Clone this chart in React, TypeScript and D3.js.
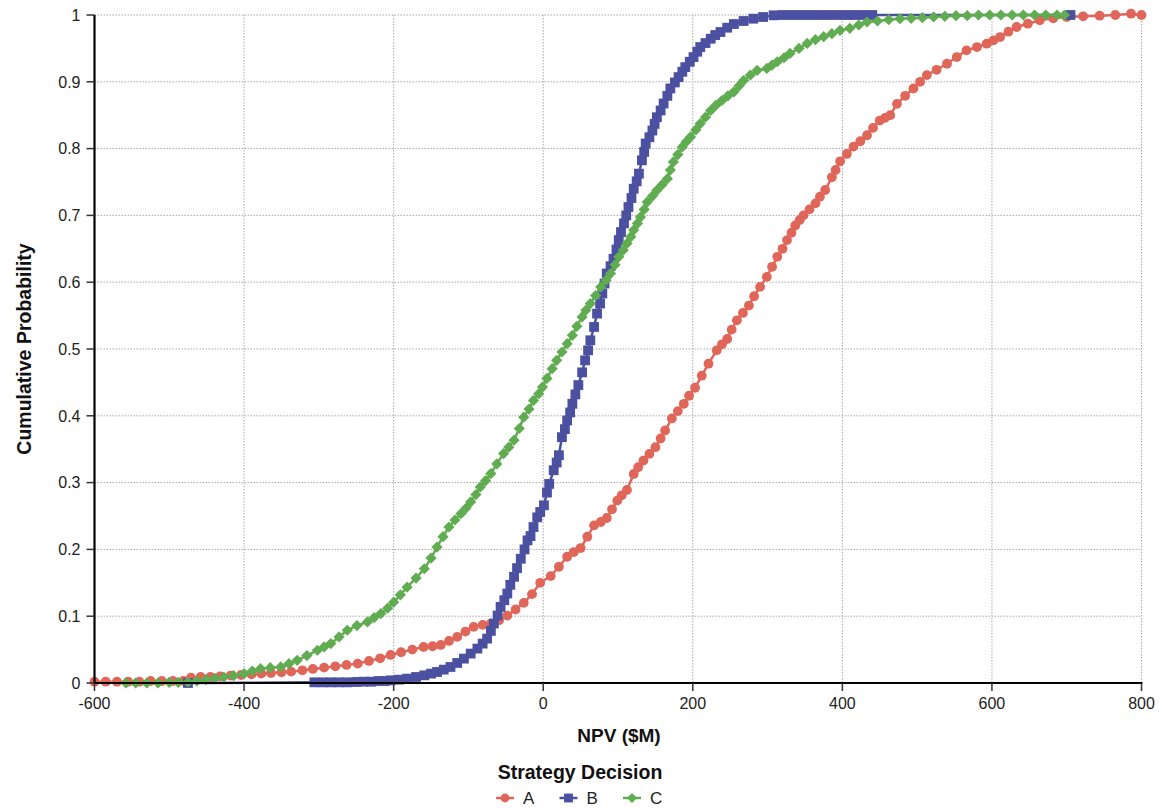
import React from "react";
import * as d3 from "d3";

const xTicks = [-600, -400, -200, 0, 200, 400, 600, 800];
const yTicks = [0, 0.1, 0.2, 0.3, 0.4, 0.5, 0.6, 0.7, 0.8, 0.9, 1];
const yTickLabels = ["0", "0.1", "0.2", "0.3", "0.4", "0.5", "0.6", "0.7", "0.8", "0.9", "1"];

const seriesNames = ["A", "B", "C"];
const seriesColors = ["#e0665a", "#4b50a0", "#60ac50"];

const dataA: [number, number][] = [
[-600,0.002],[-585,0.002],[-570,0.002],[-555,0.002],[-540,0.002],[-525,0.003],[-510,0.003],[-495,0.003],[-481,0.003],[-471,0.008],[-458,0.009],[-445,0.009],[-432,0.010],[-418,0.011],[-404,0.012],[-390,0.013],[-377,0.014],[-364,0.015],[-350,0.016],[-337,0.017],[-322,0.019],[-308,0.021],[-293,0.023],[-278,0.025],[-263,0.027],[-248,0.029],[-233,0.033],[-218,0.037],[-204,0.042],[-190,0.046],[-175,0.050],[-160,0.054],[-148,0.055],[-137,0.057],[-126,0.063],[-115,0.069],[-104,0.077],[-93,0.084],[-81,0.087],[-70,0.089],[-59,0.094],[-48,0.101],[-37,0.110],[-26,0.120],[-15,0.133],[-4,0.150],[10,0.160],[21,0.174],[32,0.189],[41,0.196],[50,0.202],[59,0.219],[68,0.236],[77,0.241],[85,0.247],[92,0.260],[99,0.273],[105,0.281],[112,0.289],[121,0.313],[127,0.323],[134,0.333],[142,0.343],[150,0.353],[157,0.366],[163,0.378],[172,0.396],[180,0.407],[188,0.418],[195,0.430],[203,0.442],[212,0.460],[221,0.478],[232,0.498],[239,0.507],[246,0.515],[252,0.529],[259,0.543],[267,0.554],[275,0.565],[282,0.579],[290,0.593],[299,0.608],[306,0.623],[313,0.638],[320,0.650],[326,0.663],[332,0.674],[337,0.685],[343,0.693],[348,0.700],[356,0.709],[364,0.718],[370,0.728],[377,0.738],[386,0.757],[391,0.768],[397,0.781],[406,0.792],[415,0.803],[424,0.811],[433,0.820],[441,0.831],[450,0.842],[457,0.846],[464,0.850],[473,0.867],[484,0.879],[495,0.890],[504,0.900],[513,0.910],[526,0.918],[540,0.927],[553,0.937],[566,0.947],[580,0.952],[593,0.957],[602,0.962],[611,0.967],[622,0.975],[633,0.982],[648,0.987],[664,0.992],[682,0.995],[700,0.997],[722,0.998],[744,0.999],[765,1.0],[786,1.002],[800,1.0]
];

const dataB: [number, number][] = [
[-475,0],[-306,0.001],[-295,0.001],[-284,0.001],[-273,0.001],[-262,0.001],[-250,0.0015],[-240,0.002],[-230,0.002],[-220,0.003],[-212,0.003],[-204,0.004],[-193,0.005],[-182,0.0065],[-170,0.009],[-159,0.0115],[-150,0.014],[-142,0.0165],[-133,0.020],[-124,0.024],[-115,0.030],[-106,0.0365],[-97,0.044],[-88,0.0515],[-81,0.059],[-75,0.0665],[-70,0.078],[-66,0.089],[-61,0.101],[-57,0.114],[-52,0.124],[-48,0.134],[-44,0.147],[-39,0.159],[-35,0.172],[-30,0.186],[-25,0.200],[-21,0.2135],[-17,0.220],[-13,0.2335],[-8,0.248],[-4,0.256],[1,0.266],[5,0.285],[8,0.298],[14,0.3185],[18,0.330],[21,0.341],[25,0.368],[29,0.380],[32,0.393],[36,0.405],[39,0.418],[43,0.432],[47,0.446],[52,0.465],[56,0.483],[60,0.498],[63,0.513],[68,0.533],[72,0.553],[76,0.568],[79,0.583],[82,0.598],[85,0.613],[90,0.624],[94,0.635],[98,0.649],[101,0.663],[104,0.675],[108,0.688],[111,0.700],[114,0.7125],[118,0.726],[121,0.740],[125,0.751],[128,0.7625],[132,0.7825],[135,0.795],[137,0.8075],[142,0.817],[146,0.827],[149,0.837],[152,0.847],[157,0.857],[161,0.8675],[166,0.879],[170,0.890],[176,0.899],[181,0.907],[186,0.915],[190,0.922],[196,0.930],[201,0.937],[206,0.945],[210,0.952],[217,0.958],[224,0.9645],[230,0.970],[237,0.9745],[246,0.981],[255,0.9865],[268,0.991],[281,0.9945],[294,0.997],[308,0.9995],[320,1],[332,1],[344,1],[356,1],[368,1],[380,1],[392,1],[404,1],[416,1],[428,1],[440,1],[705,1]
];

const dataC: [number, number][] = [
[-558,0],[-545,0],[-530,0],[-515,0],[-500,0.001],[-488,0.001],[-475,0.0015],[-463,0.003],[-451,0.005],[-439,0.007],[-427,0.009],[-414,0.011],[-400,0.014],[-389,0.018],[-378,0.0215],[-365,0.023],[-351,0.024],[-340,0.029],[-329,0.034],[-316,0.041],[-302,0.049],[-293,0.054],[-284,0.059],[-273,0.069],[-262,0.079],[-249,0.086],[-235,0.0915],[-226,0.098],[-217,0.104],[-208,0.112],[-200,0.121],[-191,0.132],[-182,0.1435],[-170,0.157],[-159,0.171],[-150,0.187],[-142,0.2035],[-134,0.219],[-126,0.2335],[-118,0.244],[-110,0.2535],[-103,0.262],[-97,0.271],[-90,0.282],[-84,0.2935],[-77,0.303],[-70,0.3135],[-62,0.328],[-53,0.3435],[-46,0.353],[-39,0.3635],[-32,0.381],[-26,0.398],[-19,0.410],[-13,0.423],[-6,0.433],[-1,0.443],[5,0.456],[12,0.4705],[18,0.483],[25,0.4955],[32,0.508],[39,0.5205],[45,0.534],[52,0.548],[57,0.558],[63,0.568],[70,0.580],[77,0.593],[84,0.603],[90,0.613],[96,0.626],[101,0.638],[107,0.648],[112,0.658],[117,0.668],[121,0.678],[126,0.688],[130,0.6975],[135,0.709],[139,0.720],[146,0.729],[152,0.7375],[159,0.746],[166,0.755],[170,0.768],[174,0.780],[180,0.791],[186,0.8025],[191,0.810],[197,0.8175],[204,0.828],[210,0.8375],[217,0.847],[224,0.857],[231,0.865],[239,0.872],[247,0.879],[255,0.885],[262,0.894],[268,0.902],[277,0.910],[286,0.917],[299,0.920],[306,0.925],[313,0.930],[322,0.936],[330,0.9425],[342,0.950],[353,0.9575],[364,0.963],[375,0.9675],[386,0.972],[397,0.977],[410,0.980],[422,0.985],[433,0.9895],[447,0.991],[462,0.993],[477,0.9945],[492,0.995],[507,0.996],[522,0.997],[537,0.998],[552,0.999],[567,0.999],[582,1],[597,1],[612,1],[627,1],[642,1],[657,1],[672,1],[687,1],[697,1]
];

const allData = [dataA, dataB, dataC];

const W = 1173, H = 808;
const left = 94.5, right = 1141.5, top = 15, bottom = 683;
const FONT = "'Liberation Sans', Arial, sans-serif";

function Marker({ kind, x, y, color, size = 1 }: { kind: number; x: number; y: number; color: string; size?: number }) {
  if (kind === 0) return <circle cx={x} cy={y} r={4.9 * size} fill={color} />;
  if (kind === 1) { const h = 4.9 * size; return <rect x={x - h} y={y - h} width={2 * h} height={2 * h} fill={color} />; }
  const s = 5.6 * size;
  return <path d={`M${x},${y - s}L${x + s},${y}L${x},${y + s}L${x - s},${y}Z`} fill={color} />;
}

export default function App() {
  const x = d3.scaleLinear().domain([-600, 800]).range([left, right]);
  const y = d3.scaleLinear().domain([0, 1]).range([bottom, top]);
  const line = d3.line<[number, number]>().x(d => x(d[0])).y(d => y(d[1]));

  return (
    <svg width={W} height={H} style={{ position: "absolute", left: 0, top: 0, background: "#fff" }} fontFamily={FONT}>
      {/* grid */}
      {xTicks.slice(1).map(t => (
        <line key={"gx" + t} x1={x(t)} x2={x(t)} y1={top} y2={bottom} stroke="#a8a8a8" strokeWidth={1} strokeDasharray="1.5,1.5" />
      ))}
      {yTicks.slice(1).map(t => (
        <line key={"gy" + t} x1={left} x2={right} y1={y(t)} y2={y(t)} stroke="#a8a8a8" strokeWidth={1} strokeDasharray="1.5,1.5" />
      ))}
      {/* series */}
      {allData.map((data, i) => (
        <g key={"s" + i}>
          <path d={line(data) || ""} fill="none" stroke={seriesColors[i]} strokeWidth={2.5} />
          {data.map((d, j) => (
            <Marker key={j} kind={i} x={x(d[0])} y={y(d[1])} color={seriesColors[i]} />
          ))}
        </g>
      ))}
      {/* axes */}
      <line x1={left} x2={left} y1={top} y2={bottom + 1} stroke="#000" strokeWidth={2.2} />
      <line x1={left - 1} x2={right + 1} y1={bottom} y2={bottom} stroke="#000" strokeWidth={2.2} />
      {yTicks.map((t, i) => (
        <g key={"yt" + t}>
          <line x1={left - 8} x2={left} y1={y(t)} y2={y(t)} stroke="#333" strokeWidth={1.5} />
          <text x={left - 14} y={y(t)} dy="0.36em" textAnchor="end" fontSize={16} fill="#222">{yTickLabels[i]}</text>
        </g>
      ))}
      {xTicks.map(t => (
        <g key={"xt" + t}>
          <line x1={x(t)} x2={x(t)} y1={bottom} y2={bottom + 8} stroke="#333" strokeWidth={1.5} />
          <text x={x(t)} y={bottom + 26} textAnchor="middle" fontSize={16} fill="#222">{t}</text>
        </g>
      ))}
      {/* axis titles */}
      <text x={(left + right) / 2 + 1} y={742} textAnchor="middle" fontSize={19} fontWeight="bold" fill="#111">NPV ($M)</text>
      <text transform={`translate(31,${(top + bottom) / 2}) rotate(-90)`} textAnchor="middle" fontSize={19.5} fontWeight="bold" fill="#111">Cumulative Probability</text>
      {/* legend */}
      <text x={580} y={779} textAnchor="middle" fontSize={19.5} fontWeight="bold" fill="#111">Strategy Decision</text>
      {seriesNames.map((n, i) => {
        const cx = 505 + i * 63.5;
        return (
          <g key={"lg" + n}>
            <line x1={cx - 9} x2={cx + 9} y1={798} y2={798} stroke={seriesColors[i]} strokeWidth={2.5} />
            <Marker kind={i} x={cx} y={798} color={seriesColors[i]} size={0.9} />
            <text x={cx + 18} y={804} fontSize={17} fill="#222">{n}</text>
          </g>
        );
      })}
    </svg>
  );
}
